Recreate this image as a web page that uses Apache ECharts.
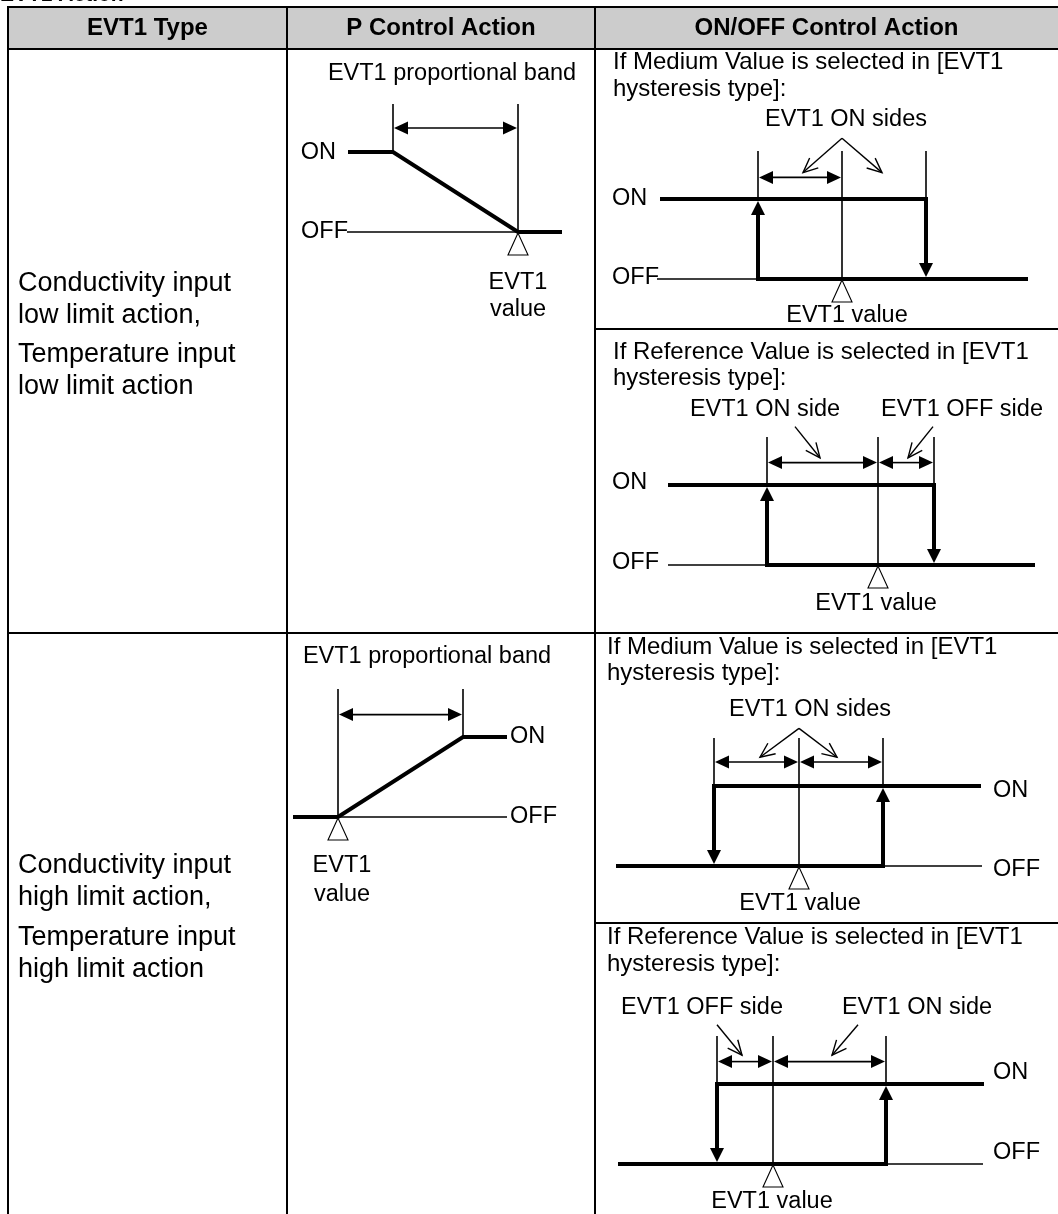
<!DOCTYPE html>
<html><head><meta charset="utf-8">
<script src="https://cdn.jsdelivr.net/npm/echarts@6/dist/echarts.min.js"></script>
<style>html,body{margin:0;padding:0;background:#fff}#c{width:1058px;height:1214px}</style>
</head><body><div id="c"></div>
<script>
// ================= DATA =================
const titleText = 'EVT1 Action';
const columnHeaders = ['EVT1 Type', 'P Control Action', 'ON/OFF Control Action'];
const lowTypeLines = ['Conductivity input', 'low limit action,', 'Temperature input', 'low limit action'];
const highTypeLines = ['Conductivity input', 'high limit action,', 'Temperature input', 'high limit action'];
const mediumCaption = ['If Medium Value is selected in [EVT1', 'hysteresis type]:'];
const referenceCaption = ['If Reference Value is selected in [EVT1', 'hysteresis type]:'];

// Diagram values: x = offset from EVT1 value, y: 0 = OFF, 1 = ON
// 1) P control, low limit
const pLowOutput = [[-168, 1], [-125, 1], [0, 0], [42, 0]];
const pLowGuides = [[-171, 0, 0, 0], [-125, 1, -125, 1.6], [0, 0, 0, 1.6]];
const pLowBand = [[-125, 0, 1.3]];
// 2) ON/OFF medium, low limit
const medLowOn = [[-180, 1], [84, 1]];
const medLowOff = [[-84, 0], [184, 0]];
const medLowSwitch = [[-84, 0, 1], [84, 1, 0]];
const medLowGuides = [[-185, 0, -84, 0], [-84, 1, -84, 1.6], [0, 0, 0, 1.6], [84, 1, 84, 1.6]];
const medLowSides = [[-84, 0, 1.27]];
const medLowCallouts = [[0, 1.76, -39, 1.33], [0, 1.76, 40, 1.33]];
// 3) ON/OFF reference, low limit
const refLowOn = [[-208, 1], [56, 1]];
const refLowOff = [[-111, 0], [155, 0]];
const refLowSwitch = [[-111, 0, 1], [56, 1, 0]];
const refLowGuides = [[-210, 0, -111, 0], [-111, 1, -111, 1.6], [0, 0, 0, 1.6], [56, 1, 56, 1.6]];
const refLowSides = [[-111, 0, 1.28], [0, 56, 1.28]];
const refLowCallouts = [[-83, 1.73, -58, 1.34], [55, 1.73, 30, 1.34]];
// 4) P control, high limit
const pHighOutput = [[-43, 0], [0, 0], [125, 1], [167, 1]];
const pHighGuides = [[0, 0, 169, 0], [0, 0, 0, 1.6], [125, 1, 125, 1.6]];
const pHighBand = [[0, 125, 1.28]];
// 5) ON/OFF medium, high limit
const medHighOn = [[-85, 1], [180, 1]];
const medHighOff = [[-181, 0], [84, 0]];
const medHighSwitch = [[-85, 1, 0], [84, 0, 1]];
const medHighGuides = [[84, 0, 183, 0], [-85, 1, -85, 1.6], [0, 0, 0, 1.6], [84, 1, 84, 1.6]];
const medHighSides = [[-85, 0, 1.3], [0, 84, 1.3]];
const medHighCallouts = [[0, 1.72, -39, 1.36], [0, 1.72, 38, 1.36]];
// 6) ON/OFF reference, high limit
const refHighOn = [[-56, 1], [209, 1]];
const refHighOff = [[-153, 0], [113, 0]];
const refHighSwitch = [[-56, 1, 0], [113, 0, 1]];
const refHighGuides = [[113, 0, 210, 0], [-56, 1, -56, 1.6], [0, 0, 0, 1.6], [113, 1, 113, 1.6]];
const refHighSides = [[-56, 0, 1.28], [0, 113, 1.28]];
const refHighCallouts = [[-56, 1.74, -31, 1.36], [85, 1.74, 59, 1.36]];
const setPoint = [[0, 0]];

// ================= LAYOUT =================
const Y_PX = 80, Y_MIN = -0.5, Y_MAX = 2.2;
// [originX (EVT1 value), originY (OFF level), xMin, xMax]
const layouts = [
  [518, 232, -230, 60],
  [842, 279, -230, 200],
  [878, 565, -260, 170],
  [338, 817, -60, 200],
  [799, 866, -190, 240],
  [773, 1164, -160, 260]
];
const FONT = '"Liberation Sans", Arial, sans-serif';
const BODY = '23.5px ' + FONT;
const CAP = '24px ' + FONT;

function segItem(p, api) {
  const a = api.coord([api.value(0), api.value(1)]);
  const b = api.coord([api.value(2), api.value(3)]);
  return {type: 'line', shape: {x1: a[0], y1: a[1], x2: b[0], y2: b[1]}, style: {stroke: '#000', lineWidth: 1.6}};
}
function dimItem(p, api) {
  const a = api.coord([api.value(0), api.value(2)]);
  const b = api.coord([api.value(1), api.value(2)]);
  const L = 15, W = 6.5;
  return {type: 'group', children: [
    {type: 'line', shape: {x1: a[0] + L - 1, y1: a[1], x2: b[0] - L + 1, y2: b[1]}, style: {stroke: '#000', lineWidth: 1.6}},
    {type: 'polygon', shape: {points: [[a[0] + 1, a[1]], [a[0] + L, a[1] - W], [a[0] + L, a[1] + W]]}, style: {fill: '#000'}},
    {type: 'polygon', shape: {points: [[b[0] - 1, b[1]], [b[0] - L, b[1] - W], [b[0] - L, b[1] + W]]}, style: {fill: '#000'}}
  ]};
}
function switchItem(p, api) {
  const a = api.coord([api.value(0), api.value(1)]);
  const b = api.coord([api.value(0), api.value(2)]);
  const dir = b[1] < a[1] ? -1 : 1;
  const L = 16, W = 7;
  const base = b[1] - dir * L;
  return {type: 'group', children: [
    {type: 'line', shape: {x1: a[0], y1: a[1], x2: b[0], y2: base + dir}, style: {stroke: '#000', lineWidth: 4}},
    {type: 'polygon', shape: {points: [[b[0], b[1] - dir * 2], [b[0] - W, base], [b[0] + W, base]]}, style: {fill: '#000'}}
  ]};
}
function calloutItem(p, api) {
  const a = api.coord([api.value(0), api.value(1)]);
  const b = api.coord([api.value(2), api.value(3)]);
  const ang = Math.atan2(b[1] - a[1], b[0] - a[0]);
  const L = 16, s = 0.42;
  const p1 = [b[0] - L * Math.cos(ang - s), b[1] - L * Math.sin(ang - s)];
  const p2 = [b[0] - L * Math.cos(ang + s), b[1] - L * Math.sin(ang + s)];
  return {type: 'group', children: [
    {type: 'line', shape: {x1: a[0], y1: a[1], x2: b[0], y2: b[1]}, style: {stroke: '#000', lineWidth: 1.4}},
    {type: 'polyline', shape: {points: [p1, b, p2]}, style: {stroke: '#000', lineWidth: 1.4, fill: 'none'}}
  ]};
}
function spItem(p, api) {
  const a = api.coord([api.value(0), api.value(1)]);
  return {type: 'polygon', shape: {points: [[a[0], a[1] + 1], [a[0] - 10, a[1] + 23], [a[0] + 10, a[1] + 23]]},
    style: {fill: '#fff', stroke: '#000', lineWidth: 1.1}};
}

const diagramSpecs = [
  {thick: [pLowOutput], guides: pLowGuides, dims: pLowBand, sw: [], co: []},
  {thick: [medLowOn, medLowOff], guides: medLowGuides, dims: medLowSides, sw: medLowSwitch, co: medLowCallouts},
  {thick: [refLowOn, refLowOff], guides: refLowGuides, dims: refLowSides, sw: refLowSwitch, co: refLowCallouts},
  {thick: [pHighOutput], guides: pHighGuides, dims: pHighBand, sw: [], co: []},
  {thick: [medHighOn, medHighOff], guides: medHighGuides, dims: medHighSides, sw: medHighSwitch, co: medHighCallouts},
  {thick: [refHighOn, refHighOff], guides: refHighGuides, dims: refHighSides, sw: refHighSwitch, co: refHighCallouts}
];

const grid = [], xAxis = [], yAxis = [], series = [];
layouts.forEach(function (l, i) {
  grid.push({left: l[0] + l[2], top: l[1] - Y_MAX * Y_PX, width: l[3] - l[2], height: (Y_MAX - Y_MIN) * Y_PX,
    containLabel: false, outerBoundsMode: 'none'});
  xAxis.push({type: 'value', gridIndex: i, min: l[2], max: l[3], show: false});
  yAxis.push({type: 'value', gridIndex: i, min: Y_MIN, max: Y_MAX, show: false});
  const d = diagramSpecs[i];
  const base = {xAxisIndex: i, yAxisIndex: i, silent: true, clip: false, animation: false};
  d.thick.forEach(function (pts) {
    series.push(Object.assign({type: 'line', data: pts, symbol: 'none', z: 3,
      lineStyle: {color: '#000', width: 4, cap: 'square', join: 'miter'}}, base));
  });
  series.push(Object.assign({type: 'custom', renderItem: segItem, data: d.guides, z: 2}, base));
  series.push(Object.assign({type: 'custom', renderItem: dimItem, data: d.dims, z: 2}, base));
  if (d.sw.length) series.push(Object.assign({type: 'custom', renderItem: switchItem, data: d.sw, z: 4}, base));
  if (d.co.length) series.push(Object.assign({type: 'custom', renderItem: calloutItem, data: d.co, z: 2}, base));
  series.push(Object.assign({type: 'custom', renderItem: spItem, data: setPoint, z: 5}, base));
});

// ================= GRAPHICS (table + text) =================
const g = [];
function txt(t, x, y, align, font) {
  g.push({type: 'text', x: x, y: y, z: 10, silent: true,
    style: {text: t, font: font || BODY, fill: '#000', textAlign: align || 'left', textVerticalAlign: 'middle',
      align: align || 'left', verticalAlign: 'middle'}});
}
function ln(x1, y1, x2, y2, w) {
  g.push({type: 'line', z: 9, silent: true, shape: {x1: x1, y1: y1, x2: x2, y2: y2}, style: {stroke: '#000', lineWidth: w || 2}});
}
const TL = 8, C1 = 287, C2 = 595, TR = 1060, HT = 7, HB = 49, RD = 633;
g.push({type: 'rect', z: 8, silent: true, shape: {x: TL, y: HT, width: TR - TL, height: HB - HT}, style: {fill: '#cccccc'}});
ln(TL - 1, HT, TR, HT); ln(TL - 1, HB, TR, HB); ln(TL - 1, RD, TR, RD);
ln(TL, HT - 1, TL, 1214); ln(C1, HT - 1, C1, 1214); ln(C2, HT - 1, C2, 1214);
ln(C2, 329, TR, 329); ln(C2, 923, TR, 923);
txt(titleText, 0, -5, 'left', 'bold 21px ' + FONT);
const HF = 'bold 24px ' + FONT;
txt(columnHeaders[0], (TL + C1) / 2, 28, 'center', HF);
txt(columnHeaders[1], (C1 + C2) / 2, 28, 'center', HF);
txt(columnHeaders[2], (C2 + 1058) / 2, 28, 'center', HF);
const CF = '27px ' + FONT;
[284, 316, 355, 387].forEach(function (y, k) { txt(lowTypeLines[k], 18, y, 'left', CF); });
[866, 898, 938, 970].forEach(function (y, k) { txt(highTypeLines[k], 18, y, 'left', CF); });
// captions
txt(mediumCaption[0], 613, 62, 'left', CAP); txt(mediumCaption[1], 613, 89, 'left', CAP);
txt(referenceCaption[0], 613, 352, 'left', CAP); txt(referenceCaption[1], 613, 378, 'left', CAP);
txt(mediumCaption[0], 607, 647, 'left', CAP); txt(mediumCaption[1], 607, 673, 'left', CAP);
txt(referenceCaption[0], 607, 937, 'left', CAP); txt(referenceCaption[1], 607, 964, 'left', CAP);
// diagram 1
txt('EVT1 proportional band', 452, 74, 'center');
txt('ON', 336, 153, 'right'); txt('OFF', 348, 232, 'right');
txt('EVT1', 518, 283, 'center'); txt('value', 518, 310, 'center');
// diagram 2
txt('EVT1 ON sides', 846, 120, 'center');
txt('ON', 612, 199); txt('OFF', 612, 278);
txt('EVT1 value', 847, 316, 'center');
// diagram 3
txt('EVT1 ON side', 765, 410, 'center'); txt('EVT1 OFF side', 962, 410, 'center');
txt('ON', 612, 483); txt('OFF', 612, 563);
txt('EVT1 value', 876, 604, 'center');
// diagram 4
txt('EVT1 proportional band', 427, 657, 'center');
txt('ON', 510, 737); txt('OFF', 510, 817);
txt('EVT1', 342, 866, 'center'); txt('value', 342, 895, 'center');
// diagram 5
txt('EVT1 ON sides', 810, 710, 'center');
txt('ON', 993, 791); txt('OFF', 993, 870);
txt('EVT1 value', 800, 904, 'center');
// diagram 6
txt('EVT1 OFF side', 702, 1008, 'center'); txt('EVT1 ON side', 917, 1008, 'center');
txt('ON', 993, 1073); txt('OFF', 993, 1153);
txt('EVT1 value', 772, 1202, 'center');

const chart = echarts.init(document.getElementById('c'), null, {renderer: 'canvas'});
chart.setOption({
  animation: false,
  backgroundColor: '#fff',
  grid: grid, xAxis: xAxis, yAxis: yAxis, series: series,
  graphic: {elements: g}
});
</script></body></html>
